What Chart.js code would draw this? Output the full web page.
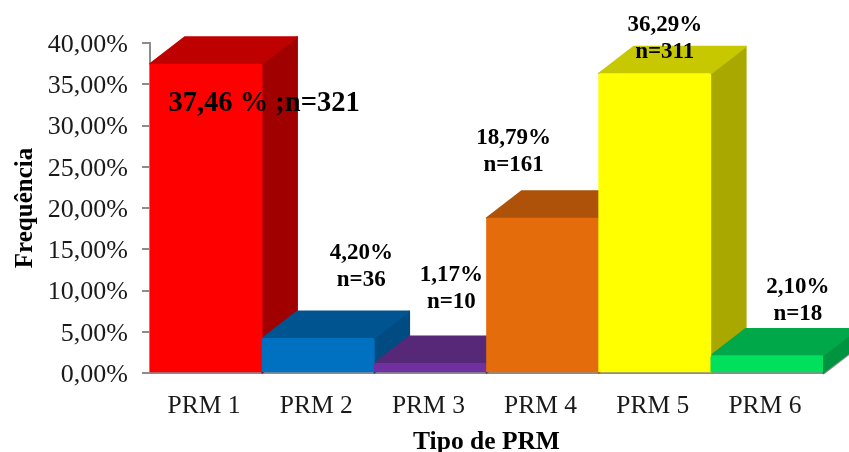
<!DOCTYPE html>
<html>
<head>
<meta charset="utf-8">
<title>Tipo de PRM</title>
<script src="https://cdn.jsdelivr.net/npm/chart.js@4/dist/chart.umd.min.js"></script>
<style>
  html, body { margin: 0; padding: 0; background: #fff; }
  canvas { display: block; }
</style>
</head>
<body>
<canvas id="prmChart" width="849" height="452"></canvas>
<script>
var categories = ["PRM 1", "PRM 2", "PRM 3", "PRM 4", "PRM 5", "PRM 6"];
var frequencies = [37.46, 4.20, 1.17, 18.79, 36.29, 2.10];
var counts = [321, 36, 10, 161, 311, 18];
var yTicks = [0, 5, 10, 15, 20, 25, 30, 35, 40];

// Face colours of each column
var frontColors = ["#ff0000", "#0070c0", "#7030a0", "#e46c0a", "#ffff00", "#00e05c"];
var topColors = ["#bf0000", "#005490", "#572878", "#ad5208", "#c8c800", "#00a84a"];
var sideColors = ["#a00000", "#004c82", "#4a2068", "#944606", "#a8a800", "#009440"];

// Fake 3D depth of the columns, in pixels
var depthX = 35;
var depthY = 27;
var axisColor = "#8c8c8c";

// Label placement relative to the column centre / column top
var labelOffsets = [
  { dx: 58, dy: 40 },
  { dx: 43, dy: -85 },
  { dx: 21, dy: -88 },
  { dx: -29, dy: -80 },
  { dx: 10, dy: -49 },
  { dx: 31, dy: -69 }
];

function pct(v) {
  return v.toFixed(2).replace(".", ",");
}

function polygon(ctx, pts, color) {
  ctx.beginPath();
  ctx.moveTo(pts[0][0], pts[0][1]);
  for (var i = 1; i < pts.length; i++) {
    ctx.lineTo(pts[i][0], pts[i][1]);
  }
  ctx.closePath();
  ctx.fillStyle = color;
  ctx.strokeStyle = color;
  ctx.lineWidth = 1.5;
  ctx.lineJoin = "round";
  ctx.fill();
  ctx.stroke();
}

// Side and top faces go under the bars, left to right so each column hides the previous one
var depthFaces = {
  id: "depthFaces",
  beforeDatasetsDraw: function (chart) {
    var ctx = chart.ctx;
    var bars = chart.getDatasetMeta(0).data;
    var base = chart.scales.y.getPixelForValue(0);
    var area = chart.chartArea;

    ctx.save();
    ctx.strokeStyle = axisColor;
    ctx.lineWidth = 2;
    ctx.beginPath();
    ctx.moveTo(area.right, base + 1);
    ctx.lineTo(area.right + depthX, base + 1 - depthY);
    ctx.stroke();

    bars.forEach(function (bar, i) {
      var left = bar.x - bar.width / 2;
      var right = bar.x + bar.width / 2;
      polygon(ctx, [
        [right, bar.y],
        [right + depthX, bar.y - depthY],
        [right + depthX, base - depthY],
        [right, base]
      ], sideColors[i]);
      polygon(ctx, [
        [left, bar.y],
        [left + depthX, bar.y - depthY],
        [right + depthX, bar.y - depthY],
        [right, bar.y]
      ], topColors[i]);
    });
    ctx.restore();
  }
};

// Percent and count written next to each column
var valueLabels = {
  id: "valueLabels",
  afterDatasetsDraw: function (chart) {
    var ctx = chart.ctx;
    var bars = chart.getDatasetMeta(0).data;
    ctx.save();
    ctx.fillStyle = "#000";
    ctx.textAlign = "center";
    ctx.textBaseline = "middle";
    bars.forEach(function (bar, i) {
      var x = bar.x + labelOffsets[i].dx;
      var y = bar.y + labelOffsets[i].dy;
      if (i === 0) {
        ctx.font = "bold 28.5px 'Liberation Serif'";
        ctx.fillText(pct(frequencies[i]) + " % ;n=" + counts[i], x, y);
      } else {
        ctx.font = "bold 23px 'Liberation Serif'";
        ctx.fillText(pct(frequencies[i]) + "%", x, y);
        ctx.fillText("n=" + counts[i], x, y + 27);
      }
    });
    ctx.restore();
  }
};

var canvas = document.getElementById("prmChart");
var prmChart = new Chart(canvas.getContext("2d"), {
  type: "bar",
  data: {
    labels: categories,
    datasets: [{
      data: frequencies,
      backgroundColor: frontColors,
      borderWidth: 0,
      borderRadius: { topLeft: 2, topRight: 2, bottomLeft: 0, bottomRight: 0 },
      barPercentage: 1,
      categoryPercentage: 1
    }]
  },
  options: {
    responsive: false,
    animation: false,
    layout: { padding: { top: 43, right: 26, bottom: 0, left: 0 } },
    plugins: {
      legend: { display: false },
      title: { display: false },
      tooltip: { enabled: false }
    },
    scales: {
      x: {
        afterFit: function (scale) { scale.height = 79; },
        grid: { display: false },
        border: { color: axisColor, width: 2 },
        ticks: {
          color: "#1a1a1a",
          padding: 10,
          maxRotation: 0,
          labelOffset: -2,
          font: { family: "'Liberation Serif'", size: 25.5 }
        },
        title: {
          display: true,
          text: "Tipo de PRM",
          color: "#000",
          padding: { top: 0, bottom: -6 },
          font: { family: "'Liberation Serif'", size: 25.5, weight: "bold" }
        }
      },
      y: {
        min: 0,
        max: 40,
        afterFit: function (scale) { scale.width = 150; },
        afterBuildTicks: function (scale) {
          scale.ticks = yTicks.map(function (v) { return { value: v }; });
        },
        grid: { drawOnChartArea: false, color: axisColor, lineWidth: 2, tickLength: 8 },
        border: { color: axisColor, width: 2 },
        ticks: {
          color: "#1a1a1a",
          padding: 14,
          labelOffset: 2,
          font: { family: "'Liberation Serif'", size: 26 },
          callback: function (value) { return pct(value) + "%"; }
        },
        title: {
          display: true,
          text: "Frequência",
          color: "#000",
          padding: { top: 11, bottom: 0 },
          font: { family: "'Liberation Serif'", size: 25, weight: "bold" }
        }
      }
    }
  },
  plugins: [depthFaces, valueLabels]
});
</script>
</body>
</html>
